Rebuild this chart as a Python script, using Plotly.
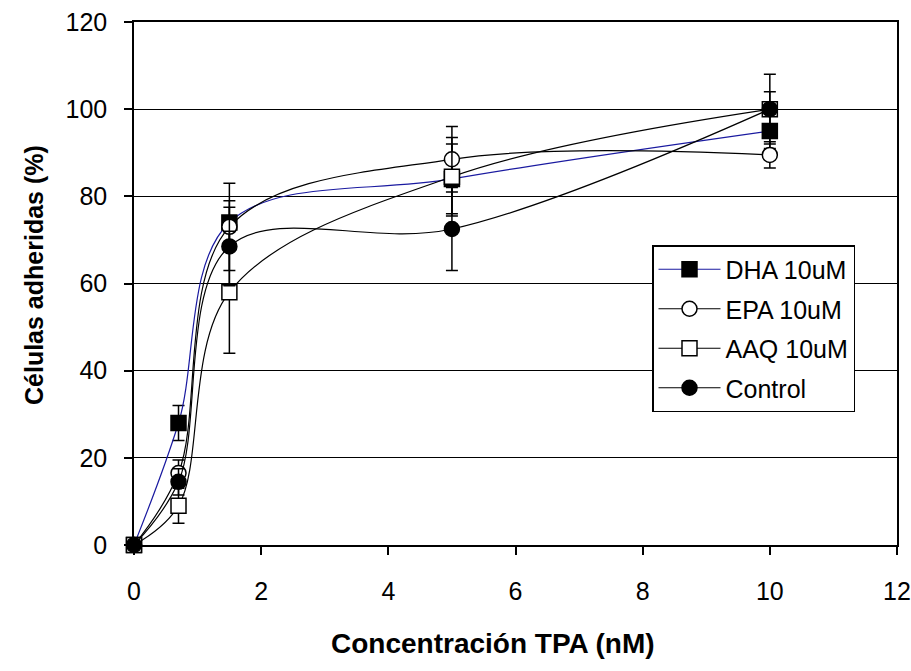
import plotly.graph_objects as go

x_vals = [0, 0.7, 1.5, 5, 10]

dha = [0, 28, 74, 84, 95]
dha_err = [0, 4, 5, 8, 4]
epa = [0, 16.5, 73, 88.5, 89.5]
epa_err = [0, 3, 10, 7.5, 3]
aaq = [0, 9, 58, 84.5, 100]
aaq_err = [0, 4, 14, 9, 8]
control = [0, 14.5, 68.5, 72.5, 100]
control_err = [0, 3, 9, 9.5, 4]

names = ["DHA 10uM", "EPA 10uM", "AAQ 10uM", "Control"]
series = [dha, epa, aaq, control]
errors = [dha_err, epa_err, aaq_err, control_err]
line_colors = ["#1a1aa0", "black", "black", "black"]
symbols = ["square", "circle", "square", "circle"]
fills = ["black", "white", "white", "black"]

fig = go.Figure()
for i in range(4):
    fig.add_trace(go.Scatter(
        x=x_vals, y=series[i], name=names[i], legendgroup=names[i],
        mode="lines+markers",
        line=dict(color=line_colors[i], width=1.2, shape="spline", smoothing=1.0),
        marker=dict(symbol=symbols[i], size=15, color=fills[i],
                    line=dict(color="black", width=1.5)),
        error_y=dict(type="data", array=errors[i], visible=True,
                     color="black", thickness=1.5, width=6),
        cliponaxis=False,
    ))

font_family = "Liberation Sans, Arial, sans-serif"
L, R, T, B = 134, 14, 22, 126
W, H = 911, 671
pw = W - L - R
ph = H - T - B

fig.update_layout(
    width=W, height=H,
    margin=dict(l=L, r=R, t=T, b=B, autoexpand=False),
    paper_bgcolor="white", plot_bgcolor="white",
    font=dict(family=font_family, color="black", size=26),
    showlegend=True,
    legend=dict(x=(652 - L) / pw, y=(545 - 245) / ph, xanchor="left", yanchor="top",
                bgcolor="white", bordercolor="black", borderwidth=1.5,
                font=dict(size=25), tracegroupgap=4, itemwidth=62),
    xaxis=dict(range=[0, 12], tickvals=[0, 2, 4, 6, 8, 10, 12],
               showgrid=False, zeroline=False, showline=True, linecolor="black",
               linewidth=1.5, mirror=True, ticks="outside", ticklen=8,
               tickcolor="black", tickwidth=1.5, automargin=False,
               ticklabeloverflow="allow",
               tickfont=dict(size=25), ticklabelstandoff=15),
    yaxis=dict(range=[0, 120], tickvals=[0, 20, 40, 60, 80, 100, 120],
               showgrid=True, gridcolor="black", gridwidth=1.2,
               zeroline=False, showline=True, linecolor="black",
               linewidth=1.5, mirror=True, ticks="outside", ticklen=8,
               tickcolor="black", tickwidth=1.5, automargin=False,
               ticklabeloverflow="allow",
               tickfont=dict(size=25), ticklabelstandoff=12),
    annotations=[
        dict(text="<b>Concentración TPA (nM)</b>", xref="paper", yref="paper",
             x=(493 - L) / pw, y=(545 - 643) / ph, xanchor="center", yanchor="middle",
             showarrow=False, font=dict(size=28)),
        dict(text="<b>Células adheridas (%)</b>", xref="paper", yref="paper",
             x=(34 - L) / pw, y=(545 - 275) / ph, xanchor="center", yanchor="middle",
             textangle=-90, showarrow=False, font=dict(size=25)),
    ],
)

fig.write_html("out.html")
